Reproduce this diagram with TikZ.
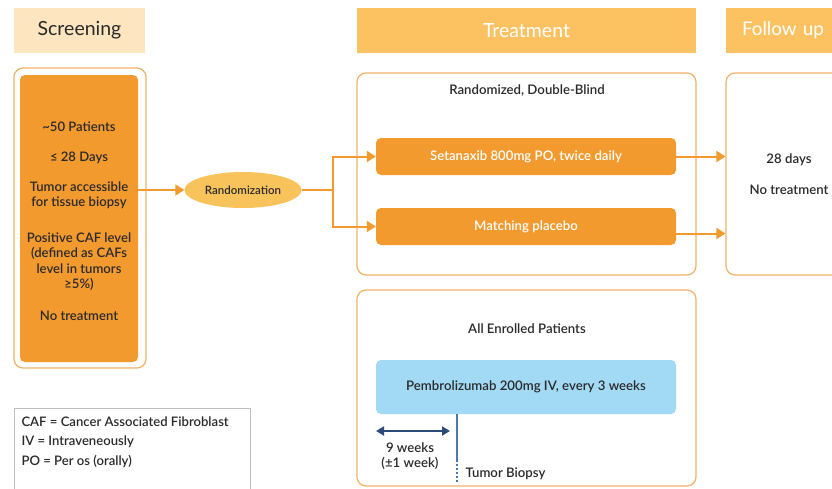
\documentclass[tikz,border=0pt]{standalone}
\usepackage{fontspec}
\setmainfont{Lato}[BoldFont=Lato Semibold]
\usetikzlibrary{arrows.meta,shapes.geometric}
\definecolor{peach}{HTML}{FDE5C0}
\definecolor{hdrorange}{HTML}{FCC262}
\definecolor{orng}{HTML}{F39A2F}
\definecolor{bord}{HTML}{F0B266}
\definecolor{ellc}{HTML}{F8C35A}
\definecolor{lblue}{HTML}{A2D9F4}
\definecolor{navy}{HTML}{2C4C7C}
\definecolor{steel}{HTML}{4A7AB0}
\definecolor{txt}{HTML}{2A2A2A}
\tikzset{
  hdr/.style={fill=hdrorange, draw=none, text=white, minimum height=45pt, font=\fontsize{19.5}{22}\selectfont},
  panel/.style={draw=bord, line width=1.2pt, rounded corners=9pt, fill=white},
  armbox/.style={fill=orng, rounded corners=5pt, text=white, minimum width=300pt, minimum height=37pt},
  lbl/.style={text=txt},
  arr/.style={draw=orng, line width=2pt, -{Triangle[length=9pt,width=11pt]}},
  line/.style={draw=orng, line width=2pt},
}
\begin{document}
\begin{tikzpicture}[x=1pt,y=-1pt, font=\fontsize{13.2}{15.5}\selectfont\bfseries]
\useasboundingbox (0,0) rectangle (832,488);
\clip (0,0) rectangle (832,488);
% headers
\node[hdr, fill=peach, text=txt, minimum width=131pt] (hs) at (79.5,30.5) {Screening};
\node[hdr, minimum width=339pt] (ht) at (526.5,30.5) {Treatment};
\node[hdr, minimum width=120pt, text width=100pt, align=left, font=\fontsize{18.8}{22}\selectfont] (hf) at (786,30.5) {\hspace*{6pt}Follow up};
% screening
\node[panel, minimum width=132pt, minimum height=300pt] (so) at (80,218) {};
\node[fill=orng, rounded corners=5pt, minimum width=118pt, minimum height=287pt] (si) at (79,218.5) {};
\node[align=center, text=txt, font=\fontsize{13.1}{15.5}\selectfont\bfseries] (sitxt) at (79,221)
 {\textasciitilde50 Patients\\[15pt]
  ≤ 28 Days\\[14pt]
  Tumor accessible\\for tissue biopsy\\[20pt]
  Positive CAF level\\(defined as CAFs\\level in tumors\\≥5\%)\\[16pt]
  No treatment};
% randomization
\node[ellipse, fill=ellc, minimum width=114pt, minimum height=36pt, text=txt, font=\fontsize{11.5}{13}\selectfont\bfseries] (rand) at (243,190) {Randomization};
\draw[arr] (si.east |- rand.west) -- (rand.west);
% treatment panel 1
\node[panel, minimum width=339pt, minimum height=202pt] (tp) at (526.5,174) {};
\node[lbl] (rdb) at (527,91) {Randomized, Double-Blind};
\node[armbox] (seta) at (526,156.5) {Setanaxib 800mg PO, twice daily};
\node[armbox] (plac) at (526,226.5) {Matching placebo};
\coordinate (sp) at (333,190);
\draw[line] (rand.east) -- (sp);
\draw[arr] (sp) |- (seta.west);
\draw[arr] (sp) |- (plac.west);
% follow up
\node[panel, minimum width=120pt, minimum height=202pt] (fu) at (786,174) {};
\node[lbl] (fd) at (789,160) {28 days};
\node[lbl] (fn) at (789,190) {No treatment};
\draw[arr] (seta.east) -- (seta.east -| fu.west);
\coordinate (pe) at ([yshift=-7pt]plac.east);
\draw[arr] (pe) -- (pe -| fu.west);
% treatment panel 2
\node[panel, minimum width=339pt, minimum height=196pt] (tp2) at (526.5,388) {};
\node[lbl] (aep) at (527,329) {All Enrolled Patients};
\node[fill=lblue, rounded corners=5pt, minimum width=300pt, minimum height=54pt, text=txt, font=\fontsize{13.2}{15}\selectfont\bfseries] (pem) at (526,387) {Pembrolizumab 200mg IV, every 3 weeks};
\coordinate (dl) at (376,431);
\coordinate (dr) at (450,431);
\draw[navy, line width=2.5pt, {Triangle[length=8pt,width=9pt]}-{Triangle[length=8pt,width=9pt]}] (dl) -- (dr);
\node[lbl, align=center] (nw) at (410,456) {9 weeks\\(±1 week)};
\coordinate (bt) at (457,460);
\coordinate (bb) at (457,482);
\draw[steel, line width=2pt] (pem.south -| bt) -- (bt);
\draw[steel, line width=2pt, dotted] (bt) -- (bb);
\node[lbl, anchor=west] (tb) at (462,474) {Tumor Biopsy};
% legend
\node[draw=black!25, line width=1pt, minimum width=236pt, minimum height=90pt] (lg) at (132,453) {};
\node[lbl, anchor=north west, align=left, font=\fontsize{13.1}{19.5}\selectfont\bfseries] (lt) at (18,413) {CAF = Cancer Associated Fibroblast\\IV = Intraveneously\\PO = Per os (orally)};
\end{tikzpicture}
\end{document}
